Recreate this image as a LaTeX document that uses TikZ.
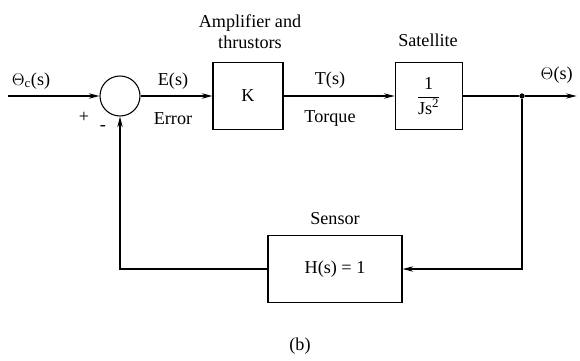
\documentclass[tikz,border=0pt]{standalone}
\usepackage{fontspec}
\setmainfont{Liberation Serif}
\usepackage{tikz}
\usetikzlibrary{positioning,arrows.meta}

\begin{document}
\begin{tikzpicture}[
  blk/.style={draw, line width=0.9pt, minimum width=2.1cm, minimum height=2.02cm},
  msg/.style={line width=0.9pt, -{Stealth[length=3.2mm,width=1.6mm]}},
  every node/.style={font=\fontsize{15.5}{18}\selectfont}
]
\useasboundingbox (0,0) rectangle (17.4,-10.83);
\node[draw, circle, line width=0.9pt, minimum size=1.2cm] (sum) at (3.6,-2.88) {};
\node[blk] (amp) at (7.44,-2.88) {K};
\node[blk, minimum width=2.01cm] (sat) at (12.86,-2.88)
  {$\displaystyle\frac{\mbox{1}}{\mbox{Js}^{\mbox{\fontsize{11}{12}\selectfont 2}}}$};
\node[blk, minimum width=4.02cm] (sensor) at (10.05,-8.07) {H(s) = 1};
\coordinate (in) at (0.24,-2.88);
\coordinate (out) at (17.3,-2.88);
\node[circle, fill, inner sep=0pt, minimum size=4.5pt] (jn) at (15.66,-2.88) {};

\node (thetac) at (0.93,-2.43) {$\Theta_{\mathrm{c}}$(s)};
\node (plus) at (2.52,-3.51) {+};
\node (minus) at (3.09,-3.84) {-};
\node (es) at (5.19,-2.43) {E(s)};
\node (err) at (5.19,-3.57) {Error};
\node[align=center] (amplbl) at (7.5,-0.96) {Amplifier and\\thrustors};
\node (ts) at (9.9,-2.4) {T(s)};
\node (torque) at (9.9,-3.54) {Torque};
\node (satlbl) at (12.84,-1.2) {Satellite};
\node (theta) at (16.7,-2.25) {$\Theta$(s)};
\node (senslbl) at (10.05,-6.57) {Sensor};
\node (cap) at (9,-10.38) {(b)};

\draw[msg] (in) -- (sum.west);
\draw[msg] (sum.east) -- (amp.west);
\draw[msg] (amp.east) -- (sat.west);
\draw[line width=0.9pt] (sat.east) -- (jn);
\draw[msg] (jn) -- (out);
\draw[msg] (jn) |- (sensor.east);
\draw[msg] (sensor.west) -| (sum.south);
\end{tikzpicture}
\end{document}
